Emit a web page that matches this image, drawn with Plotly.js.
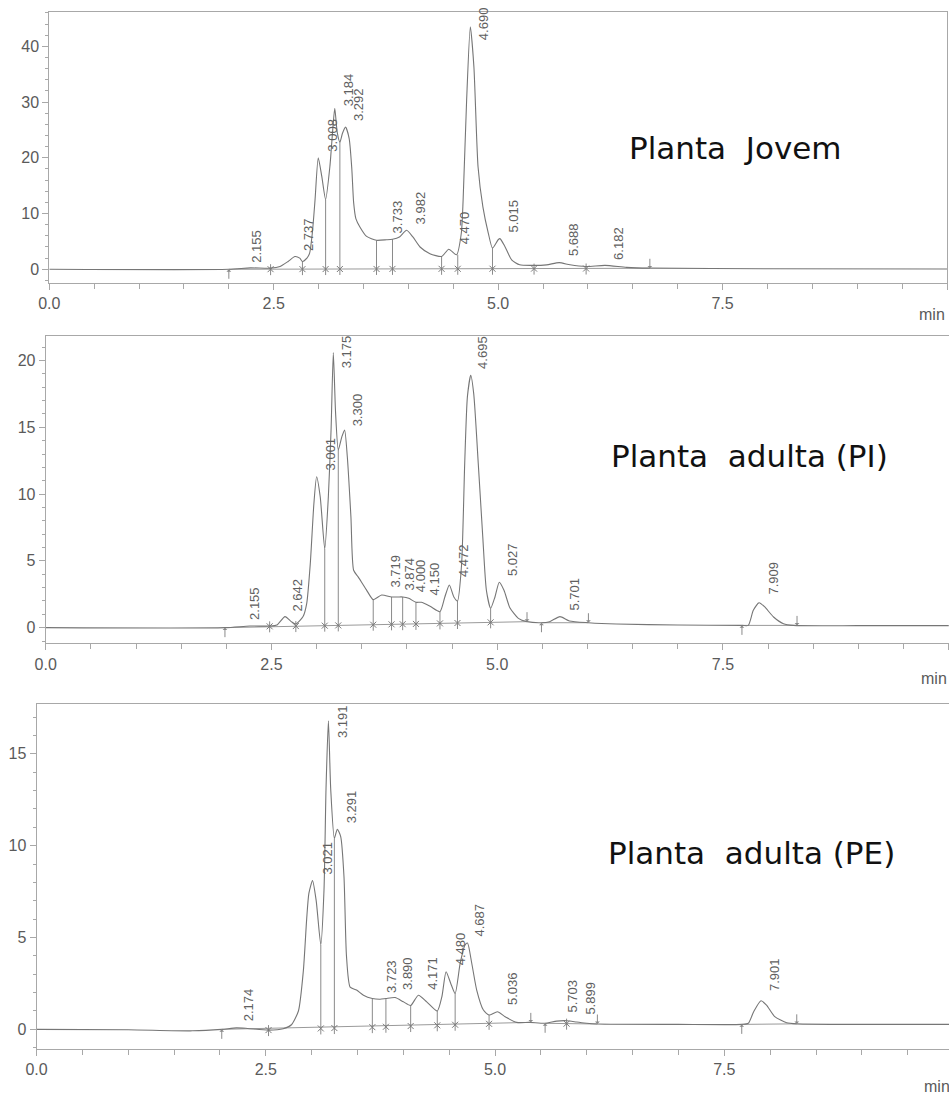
<!DOCTYPE html>
<html>
<head>
<meta charset="utf-8">
<script src="https://cdn.plot.ly/plotly-3.0.1.min.js"></script>
<style>
html,body{margin:0;padding:0;background:#fff;}
#chart{width:949px;height:1094px;}
</style>
</head>
<body>
<div id="chart"></div>
<script>
// ---------------- DATA ----------------
const sampleNames = ['Planta\u00A0 Jovem', 'Planta\u00A0 adulta (PI)', 'Planta\u00A0 adulta (PE)'];

// Panel 1: Planta Jovem
const time1 = [0, 2.0, 2.24, 2.465, 2.57, 2.66, 2.736, 2.79, 2.82, 2.87, 2.90, 2.93, 2.96, 2.996, 3.035, 3.078, 3.126, 3.16, 3.18, 3.207, 3.237, 3.266, 3.30, 3.34, 3.37, 3.39, 3.415, 3.46, 3.535, 3.645, 3.757, 3.823, 3.90, 3.98, 4.05, 4.13, 4.24, 4.37, 4.45, 4.537, 4.59, 4.61, 4.649, 4.69, 4.73, 4.776, 4.83, 4.89, 4.937, 5.0, 5.02, 5.075, 5.15, 5.24, 5.39, 5.54, 5.68, 5.80, 5.98, 6.19, 6.43, 6.68, 8.0, 10];
const signal1 = [0, 0, 0.25, 0.2, 0.5, 1.4, 2.3, 2.0, 1.4, 2.0, 2.9, 6.5, 12.4, 20.0, 16.7, 12.5, 18.5, 25.6, 28.9, 24.6, 22.8, 24.4, 25.5, 23.5, 18.0, 12.0, 9.1, 7.6, 5.9, 5.2, 5.3, 5.4, 5.8, 7.0, 5.8, 4.0, 2.8, 2.3, 3.6, 2.6, 6.5, 12.5, 30.4, 43.5, 36.3, 18.4, 11.2, 6.5, 3.8, 5.3, 5.5, 4.1, 1.7, 0.8, 0.7, 0.8, 1.2, 0.8, 0.5, 0.7, 0.35, 0.2, 0.1, 0.05];
const peaks1 = ['2.155','2.737','3.008','3.184','3.292','3.733','3.982','4.470','4.690','5.015','5.688','6.182'];
const peakLabelY1 = [0.77, 2.9, 20.8, 28.9, 26.2, 6.15, 7.65, 4.06, 40.8, 6.15, 2.0, 1.37];
const dropT1 = [2.465, 2.82, 3.078, 3.237, 3.645, 3.823, 4.37, 4.55, 4.937, 5.40, 5.98];
const dropTop1 = [0.2, 1.4, 12.5, 22.8, 5.2, 5.4, 2.3, 2.6, 3.8, 0.7, 0.5];
const dropBase1 = [0.02, 0.03, 0.04, 0.05, 0.06, 0.07, 0.08, 0.09, 0.1, 0.12, 0.14];
const baseStart1 = [2.0];
const baseStartY1 = [0.0];
const baseEnd1 = [6.69];
const baseEndY1 = [0.18];

// Panel 2: Planta adulta (PI)
const time2 = [0, 1.985, 2.26, 2.48, 2.56, 2.65, 2.72, 2.77, 2.85, 2.89, 2.93, 2.97, 3.00, 3.04, 3.09, 3.13, 3.16, 3.185, 3.21, 3.24, 3.28, 3.31, 3.34, 3.38, 3.41, 3.46, 3.55, 3.627, 3.72, 3.83, 3.90, 3.953, 4.02, 4.10, 4.16, 4.256, 4.366, 4.42, 4.47, 4.52, 4.56, 4.606, 4.64, 4.67, 4.707, 4.74, 4.79, 4.84, 4.88, 4.927, 4.975, 5.023, 5.075, 5.14, 5.234, 5.33, 5.49, 5.58, 5.695, 5.80, 6.01, 6.32, 7.0, 7.71, 7.78, 7.836, 7.90, 7.96, 8.06, 8.17, 8.28, 9.0, 10];
const signal2 = [0, 0, 0.12, 0.12, 0.2, 0.83, 0.45, 0.27, 0.83, 1.8, 4.8, 9.3, 11.3, 9.8, 5.9, 9.8, 14.8, 20.6, 16.1, 13.3, 14.3, 14.8, 12.8, 8.3, 4.3, 3.8, 2.85, 2.1, 2.45, 2.3, 2.3, 2.3, 2.2, 1.9, 1.9, 1.6, 1.2, 2.3, 3.2, 2.3, 2.0, 4.8, 12.3, 17.3, 18.9, 17.5, 12.3, 6.8, 2.8, 1.45, 2.3, 3.4, 2.8, 1.5, 0.7, 0.45, 0.37, 0.45, 0.83, 0.5, 0.37, 0.27, 0.2, 0.17, 0.17, 1.3, 1.87, 1.57, 0.8, 0.3, 0.17, 0.15, 0.15];
const peaks2 = ['2.155','2.642','3.001','3.175','3.300','3.719','3.874','4.000','4.150','4.472','4.695','5.027','5.701','7.909'];
const peakLabelY2 = [0.45, 1.08, 11.6, 19.3, 14.9, 2.82, 2.6, 2.5, 2.3, 3.6, 19.2, 3.69, 1.1, 2.32];
const dropT2 = [2.48, 2.77, 3.09, 3.24, 3.627, 3.83, 3.953, 4.10, 4.366, 4.56, 4.927];
const dropTop2 = [0.12, 0.27, 5.9, 13.3, 2.1, 2.3, 2.3, 1.9, 1.2, 2.0, 1.45];
const dropBase2 = [0.1, 0.12, 0.15, 0.17, 0.22, 0.25, 0.26, 0.28, 0.32, 0.35, 0.4];
const baseStart2 = [1.985, 5.49, 7.71];
const baseStartY2 = [0.0, 0.37, 0.17];
const baseEnd2 = [5.33, 6.01, 8.32];
const baseEndY2 = [0.45, 0.37, 0.17];

// Panel 3: Planta adulta (PE)
const time3 = [0, 1.0, 1.7, 2.02, 2.18, 2.3, 2.53, 2.69, 2.78, 2.856, 2.91, 2.946, 2.97, 3.01, 3.05, 3.10, 3.135, 3.157, 3.183, 3.208, 3.248, 3.28, 3.317, 3.353, 3.38, 3.42, 3.49, 3.565, 3.662, 3.746, 3.81, 3.91, 4.0, 4.08, 4.164, 4.255, 4.37, 4.42, 4.466, 4.517, 4.565, 4.62, 4.673, 4.70, 4.746, 4.80, 4.873, 4.935, 5.026, 5.11, 5.236, 5.38, 5.546, 5.673, 5.78, 5.89, 6.0, 6.116, 7.0, 7.69, 7.762, 7.82, 7.90, 7.96, 8.05, 8.18, 8.29, 9.0, 10];
const signal3 = [0, -0.02, -0.08, 0, 0.08, 0.05, -0.04, 0.03, 0.25, 1.0, 3.2, 6.0, 7.4, 8.1, 7.0, 4.6, 7.6, 13.1, 16.8, 13.1, 10.4, 10.9, 10.5, 8.3, 4.0, 2.3, 2.14, 1.86, 1.68, 1.64, 1.68, 1.73, 1.5, 1.3, 1.86, 1.5, 1.0, 1.77, 3.14, 2.5, 1.95, 3.6, 4.6, 4.7, 3.6, 2.14, 1.05, 0.78, 0.96, 0.69, 0.38, 0.38, 0.33, 0.45, 0.47, 0.40, 0.33, 0.29, 0.27, 0.27, 0.33, 0.96, 1.56, 1.32, 0.69, 0.36, 0.3, 0.27, 0.27];
const peaks3 = ['2.174','3.021','3.191','3.291','3.723','3.890','4.171','4.480','4.687','5.036','5.703','5.899','7.901'];
const peakLabelY3 = [0.32, 8.3, 15.76, 11.13, 1.87, 2.05, 2.05, 3.4, 4.96, 1.23, 0.78, 0.72, 1.98];
const dropT3 = [2.53, 3.10, 3.248, 3.662, 3.81, 4.08, 4.37, 4.565, 4.935, 5.78];
const dropTop3 = [-0.04, 4.6, 10.4, 1.68, 1.68, 1.3, 1.0, 1.95, 0.78, 0.47];
const dropBase3 = [-0.04, 0.05, 0.07, 0.12, 0.14, 0.18, 0.22, 0.25, 0.3, 0.31];
const baseStart3 = [2.02, 5.546, 7.69];
const baseStartY3 = [0.0, 0.33, 0.27];
const baseEnd3 = [5.39, 6.116, 8.29];
const baseEndY3 = [0.38, 0.29, 0.3];

const xTickStep = 2.5;
const xMinorStep = 0.5;
const axisUnit = 'min';

// ---------------- LAYOUT / DRAW ----------------
const W = 949, H = 1094;
const panels = [
  {t: time1, s: signal1, pk: peaks1, py: peakLabelY1, dt: dropT1, dtop: dropTop1, db: dropBase1,
   bs: baseStart1, bsy: baseStartY1, be: baseEnd1, bey: baseEndY1,
   px: [49.3, 947], pyPx: [12.3, 283], xr: [0, 10], yr: [-2.46, 46.1], dy: 10, my: 2, mirrorY: true,
   name: sampleNames[0], nameX: 627, nameY: 148, minX: 947, minDy: 32},
  {t: time2, s: signal2, pk: peaks2, py: peakLabelY2, dt: dropT2, dtop: dropTop2, db: dropBase2,
   bs: baseStart2, bsy: baseStartY2, be: baseEnd2, bey: baseEndY2,
   px: [45.7, 949], pyPx: [335.7, 643.3], xr: [0, 10.003], yr: [-1.17, 21.86], dy: 5, my: 1, mirrorY: false,
   name: sampleNames[1], nameX: 609, nameY: 456, minX: 949, minDy: 35},
  {t: time3, s: signal3, pk: peaks3, py: peakLabelY3, dt: dropT3, dtop: dropTop3, db: dropBase3,
   bs: baseStart3, bsy: baseStartY3, be: baseEnd3, bey: baseEndY3,
   px: [36.5, 949], pyPx: [704.3, 1049], xr: [0, 9.95], yr: [-1.07, 17.7], dy: 5, my: 1, mirrorY: false,
   name: sampleNames[2], nameX: 606, nameY: 853, minX: 952, minDy: 37}
];

const lineGray = '#767676';
const axisGray = '#a8a8a8';
const textGray = '#5a5a5a';
const tickFont = {family: 'Liberation Sans, Arial, sans-serif', size: 16, color: textGray};
const labelFont = {family: 'Liberation Sans Narrow, Arial Narrow, Liberation Sans, sans-serif', size: 13, color: '#606060'};

const traces = [];
const annotations = [];
const layout = {
  width: W, height: H, margin: {l: 0, r: 0, t: 0, b: 0},
  paper_bgcolor: '#fff', plot_bgcolor: '#fff', showlegend: false,
  annotations: annotations
};

panels.forEach((p, i) => {
  const k = i === 0 ? '' : String(i + 1);
  const xa = 'x' + k, ya = 'y' + k;
  const pxPerY = (p.pyPx[1] - p.pyPx[0]) / (p.yr[1] - p.yr[0]);
  const loOff = 6 / pxPerY, hiOff = 5 / pxPerY;

  layout['xaxis' + k] = {
    domain: [p.px[0] / W, p.px[1] / W], range: p.xr, anchor: ya,
    tick0: 0, dtick: xTickStep, tickformat: '.1f',
    showline: true, mirror: true, linecolor: axisGray, linewidth: 1,
    ticks: 'outside', ticklen: 6, tickcolor: axisGray, tickwidth: 1,
    minor: {dtick: xMinorStep, ticks: 'outside', ticklen: 5, tickcolor: axisGray},
    tickfont: tickFont, showgrid: false, zeroline: false, fixedrange: true
  };
  layout['yaxis' + k] = {
    domain: [1 - p.pyPx[1] / H, 1 - p.pyPx[0] / H], range: p.yr, anchor: xa,
    tick0: 0, dtick: p.dy,
    showline: true, mirror: p.mirrorY, linecolor: axisGray, linewidth: 1,
    ticks: 'outside', ticklen: 6, tickcolor: axisGray, tickwidth: 1,
    minor: {dtick: p.my, ticks: 'outside', ticklen: 3, tickcolor: axisGray},
    tickfont: tickFont, showgrid: false, zeroline: false, fixedrange: true
  };

  // integration baselines
  const bx = [], by = [];
  p.bs.forEach((s, j) => { bx.push(s, p.be[j], null); by.push(p.bsy[j], p.bey[j], null); });
  traces.push({x: bx, y: by, xaxis: xa, yaxis: ya, mode: 'lines', line: {color: '#9a9a9a', width: 1}, hoverinfo: 'skip'});

  // drop lines
  const dx = [], dy = [];
  p.dt.forEach((t, j) => {
    dx.push(t, t, null);
    dy.push(p.db[j] - loOff, Math.max(p.dtop[j], p.db[j] + hiOff), null);
  });
  traces.push({x: dx, y: dy, xaxis: xa, yaxis: ya, mode: 'lines', line: {color: '#8a8a8a', width: 1}, hoverinfo: 'skip'});
  traces.push({x: p.dt, y: p.db, xaxis: xa, yaxis: ya, mode: 'markers',
    marker: {symbol: 'x-thin-open', size: 6, color: '#7a7a7a', line: {color: '#7a7a7a', width: 1}}, hoverinfo: 'skip'});

  // chromatogram signal
  traces.push({x: p.t, y: p.s, xaxis: xa, yaxis: ya, mode: 'lines',
    line: {color: lineGray, width: 1.1, shape: 'spline', smoothing: 0.6}, hoverinfo: 'skip'});

  // start / end arrows
  p.bs.forEach((s, j) => {
    annotations.push({x: s, y: p.bsy[j], xref: xa, yref: ya, ax: 0, ay: 11, text: '', showarrow: true,
      arrowhead: 1, arrowsize: 0.8, arrowwidth: 1, arrowcolor: '#8a8a8a'});
    annotations.push({x: p.be[j], y: p.bey[j], xref: xa, yref: ya, ax: 0, ay: -11, text: '', showarrow: true,
      arrowhead: 1, arrowsize: 0.8, arrowwidth: 1, arrowcolor: '#8a8a8a'});
  });

  // peak retention-time labels
  p.pk.forEach((lab, j) => {
    annotations.push({x: parseFloat(lab), y: p.py[j], xref: xa, yref: ya, text: lab, showarrow: false,
      textangle: -90, xanchor: 'left', yanchor: 'bottom', xshift: 4, font: labelFont});
  });

  // axis unit
  annotations.push({x: p.minX / W, y: 1 - (p.pyPx[1] + p.minDy) / H, xref: 'paper', yref: 'paper',
    text: axisUnit, showarrow: false, xanchor: 'right', yanchor: 'middle', font: tickFont});

  // sample name
  annotations.push({x: p.nameX / W, y: 1 - p.nameY / H, xref: 'paper', yref: 'paper',
    text: p.name, showarrow: false, xanchor: 'left', yanchor: 'middle',
    font: {family: 'DejaVu Sans, Open Sans, sans-serif', size: 31, color: '#111'}});
});

Plotly.newPlot('chart', traces, layout, {staticPlot: true, displayModeBar: false});
</script>
</body>
</html>
